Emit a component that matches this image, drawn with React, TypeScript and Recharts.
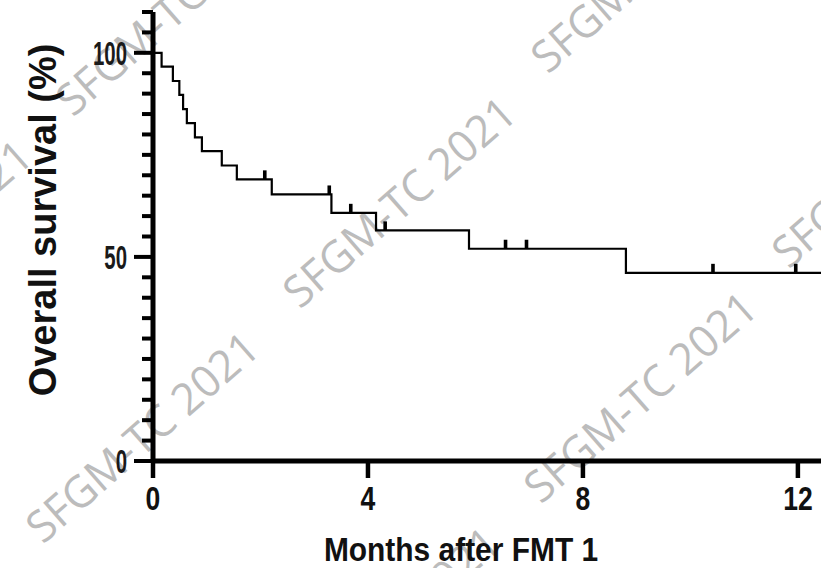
import { ComposedChart, Line, Scatter, XAxis, YAxis } from 'recharts'

// Kaplan-Meier steps: time of drop (months) and survival after it (%)
const STEP_TIMES = [0, 0.16, 0.37, 0.49, 0.56, 0.63, 0.78, 0.91, 1.28, 1.56, 2.21, 3.32, 4.15, 5.88, 8.8, 12.43]
const STEP_SURVIVAL = [100, 96.6, 93.1, 89.7, 86.2, 82.8, 79.3, 75.9, 72.4, 69.0, 65.3, 60.8, 56.5, 52.0, 46.1, 46.1]

// censored patients
const CENSOR_TIMES = [2.08, 3.28, 3.68, 4.32, 6.56, 6.95, 10.42, 11.96]
const CENSOR_SURVIVAL = [69.0, 65.3, 60.8, 56.5, 52.0, 52.0, 46.1, 46.1]

const X_TICKS = [0, 4, 8, 12]
const Y_TICKS = [0, 5, 10, 15, 20, 25, 30, 35, 40, 45, 50, 55, 60, 65, 70, 75, 80, 85, 90, 95, 100, 105, 110]
const Y_LABELED = [0, 50, 100]

const WATERMARK = 'SFGM-TC 2021'
// baseline start of each watermark copy
const WATERMARK_SPOTS = [
    [300, 310], [541, 505], [43, 545], [73, 118],
    [548, 75], [789, 270], [284, 740], [-184, 353],
]

const FONT = '"Liberation Sans", Arial, sans-serif'

const steps = STEP_TIMES.map((t, i) => ({ t, s: STEP_SURVIVAL[i] }))
const censored = CENSOR_TIMES.map((t, i) => ({ t, s: CENSOR_SURVIVAL[i] }))

function YTick(props: any) {
    const { x, y, payload } = props
    const major = Y_LABELED.includes(payload.value)
    return (
        <g>
            <line x1={x - (major ? 19 : 11)} x2={x} y1={y} y2={y} stroke='#000' strokeWidth={4} />
            {major && (
                <text
                    x={0}
                    y={0}
                    transform={`translate(${x - 26},${y + 12}) scale(0.6,1)`}
                    textAnchor='end'
                    fontFamily={FONT}
                    fontSize={34}
                    fontWeight='bold'
                    fill='#1a1a1a'
                >
                    {payload.value}
                </text>
            )}
        </g>
    )
}

function XTick(props: any) {
    const { x, y, payload } = props
    return (
        <g>
            <line x1={x} x2={x} y1={y} y2={y + 17} stroke='#000' strokeWidth={4.5} />
            <text
                x={0}
                y={0}
                transform={`translate(${x},${y + 49}) scale(0.78,1)`}
                textAnchor='middle'
                fontFamily={FONT}
                fontSize={34}
                fontWeight='bold'
                fill='#111'
            >
                {payload.value}
            </text>
        </g>
    )
}

function CensorMark(props: any) {
    const { cx, cy } = props
    return <rect x={cx - 1.8} y={cy - 9} width={3.6} height={9} fill='#000' />
}

export default function App() {
    return (
        <div style={{ position: 'absolute', left: 0, top: 0, width: 821, height: 568, background: '#fff', overflow: 'hidden' }}>
            <svg width={821} height={568} style={{ position: 'absolute', left: 0, top: 0 }}>
                {WATERMARK_SPOTS.map(([wx, wy], i) => (
                    <text
                        key={i}
                        x={wx}
                        y={wy}
                        transform={`rotate(-41.3 ${wx} ${wy})`}
                        fontFamily='"Open Sans", "Noto Sans", sans-serif'
                        fontSize={44}
                        fill='#bcbcbc'
                        textLength={292}
                        lengthAdjust='spacingAndGlyphs'
                    >
                        {WATERMARK}
                    </text>
                ))}
            </svg>
            <div style={{ position: 'absolute', left: 0, top: 0 }}>
                <ComposedChart width={821} height={568} margin={{ top: 12, right: 0, left: 0, bottom: 0 }}>
                    <XAxis
                        dataKey='t'
                        type='number'
                        domain={[0, 12.43]}
                        allowDataOverflow
                        ticks={X_TICKS}
                        interval={0}
                        height={107}
                        tickSize={0}
                        tickMargin={0}
                        tickLine={false}
                        tick={<XTick />}
                        axisLine={{ stroke: '#000', strokeWidth: 5 }}
                        label={{
                            content: () => (
                                <text
                                    x={0}
                                    y={0}
                                    transform='translate(461,561) scale(0.88,1)'
                                    textAnchor='middle'
                                    fontFamily={FONT}
                                    fontSize={34}
                                    fontWeight='bold'
                                    fill='#111'
                                >
                                    Months after FMT 1
                                </text>
                            ),
                        }}
                    />
                    <YAxis
                        type='number'
                        domain={[0, 110]}
                        ticks={Y_TICKS}
                        interval={0}
                        width={153}
                        tickSize={0}
                        tickMargin={0}
                        tickLine={false}
                        tick={<YTick />}
                        axisLine={{ stroke: '#000', strokeWidth: 5 }}
                        label={{
                            content: () => (
                                <text
                                    x={56}
                                    y={220}
                                    transform='rotate(-90 56 220)'
                                    textAnchor='middle'
                                    fontFamily={FONT}
                                    fontSize={38}
                                    fontWeight='bold'
                                    fill='#111'
                                >
                                    Overall survival (%)
                                </text>
                            ),
                        }}
                    />
                    <Line
                        data={steps}
                        dataKey='s'
                        type='stepAfter'
                        stroke='#000'
                        strokeWidth={2.2}
                        dot={false}
                        isAnimationActive={false}
                    />
                    <Scatter
                        data={censored}
                        dataKey='s'
                        shape={<CensorMark />}
                        isAnimationActive={false}
                    />
                </ComposedChart>
            </div>
        </div>
    )
}
